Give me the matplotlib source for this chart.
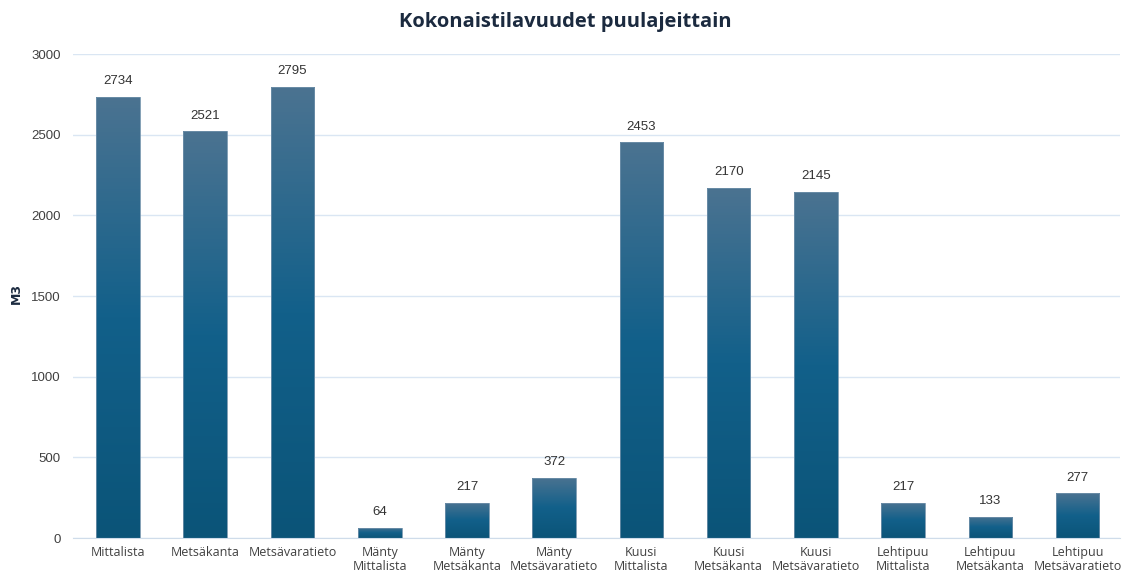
import matplotlib
matplotlib.use("Agg")
import matplotlib.pyplot as plt
import numpy as np
from matplotlib.colors import LinearSegmentedColormap

labels = ["Mittalista", "Metsäkanta", "Metsävaratieto",
          "Mänty\nMittalista", "Mänty\nMetsäkanta", "Mänty\nMetsävaratieto",
          "Kuusi\nMittalista", "Kuusi\nMetsäkanta", "Kuusi\nMetsävaratieto",
          "Lehtipuu\nMittalista", "Lehtipuu\nMetsäkanta", "Lehtipuu\nMetsävaratieto"]
values = [2734, 2521, 2795, 64, 217, 372, 2453, 2170, 2145, 217, 133, 277]
yticks = [0, 500, 1000, 1500, 2000, 2500, 3000]

# bar gradient, bottom -> top
cmap = LinearSegmentedColormap.from_list("bar", ["#0b5478", "#12608a", "#4b7391"])

fig = plt.figure(figsize=(11.24, 5.75), dpi=100)
ax = fig.add_axes([0.065, 0.0643, 0.931, 0.8417])

x = np.arange(len(values))
w = 0.5
bars = ax.bar(x, values, width=w, color="none", edgecolor="#6f90aa", linewidth=0.6, zorder=3)
grad = np.linspace(0, 1, 256).reshape(-1, 1)
for b in bars:
    x0, y0 = b.get_x(), b.get_y()
    im = ax.imshow(grad, cmap=cmap, origin="lower", aspect="auto",
                   extent=[x0, x0 + b.get_width(), y0, y0 + b.get_height()],
                   zorder=2)
    im.set_clip_path(b)

for xi, v in zip(x, values):
    ax.text(xi, v + 60, str(v), ha="center", va="bottom", fontsize=9.5,
            color="#333333", family="Liberation Sans")

ax.set_xlim(-0.515, 11.48)
ax.set_ylim(0, 3000)
ax.set_yticks(yticks)
ax.set_yticklabels([str(t) for t in yticks], family="Liberation Sans", fontsize=9.5, color="#404040")
ax.set_xticks(x)
ax.set_xticklabels(labels, fontsize=9, color="#404040", family="Open Sans", linespacing=1.1)
ax.tick_params(length=0, pad=6)
ax.tick_params(axis="y", pad=9)
ax.grid(axis="y", color="#dae6f3", linewidth=1, zorder=0)
ax.set_axisbelow(True)
for s in ["left", "right", "top"]:
    ax.spines[s].set_visible(False)
ax.spines["bottom"].set_color("#cfdcea")

fig.text(0.015, 0.49, "M3", rotation=90, ha="center", va="center", fontsize=9,
         fontweight="bold", color="#1b2a3f")
fig.text(0.503, 0.962, "Kokonaistilavuudet puulajeittain", ha="center", va="center",
         fontsize=14.5, fontweight="bold", color="#1b2a3f", family="Open Sans")

fig.savefig("out.png", dpi=100)
